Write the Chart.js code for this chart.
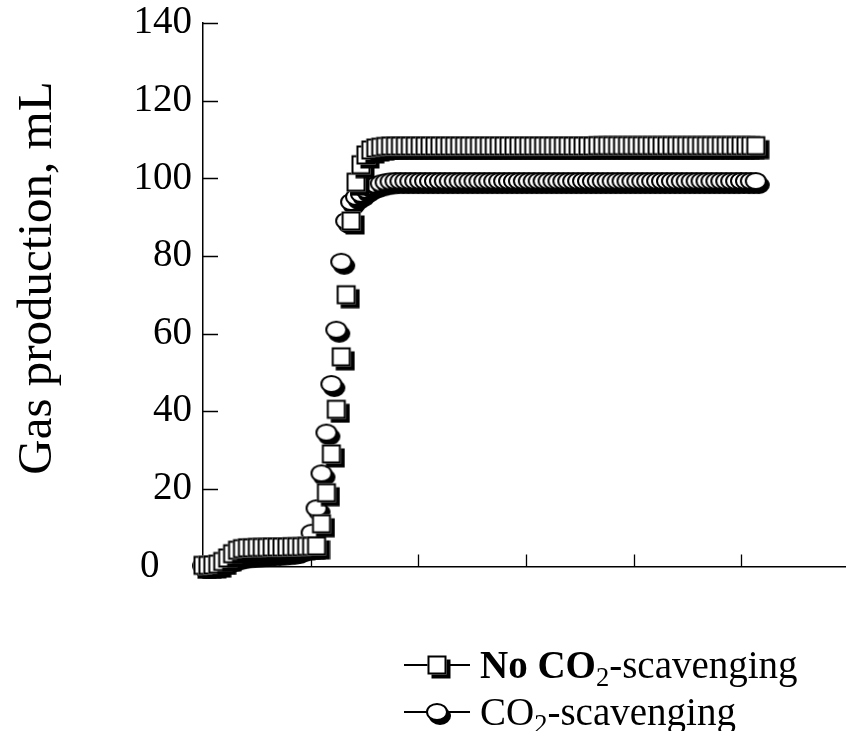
<!DOCTYPE html>
<html>
<head>
<meta charset="utf-8">
<title>Gas production</title>
<script src="https://cdn.jsdelivr.net/npm/chart.js"></script>
<style>
    html, body { margin: 0; padding: 0; background: #fff; }
    #wrap { position: relative; width: 846px; height: 731px; overflow: hidden; }
    #legend {
        position: absolute; left: 400px; top: 641px;
        font-family: "Liberation Serif", "Times New Roman", serif;
        font-size: 39px; color: #000;
    }
    .row { height: 47px; display: flex; align-items: center; white-space: nowrap; }
    .row canvas { margin-right: 8px; }
    sub { font-size: 0.68em; vertical-align: -0.3em; line-height: 0; }
</style>
</head>
<body>
<div id="wrap">
    <canvas id="gasChart" width="846" height="731"></canvas>
    <div id="legend">
        <div class="row"><canvas id="symSquare" width="72" height="30"></canvas><span><b>No CO</b><sub>2</sub>-scavenging</span></div>
        <div class="row"><canvas id="symCircle" width="72" height="30"></canvas><span>CO<sub>2</sub>-scavenging</span></div>
    </div>
</div>

<script>
    // sampling times (h)
    const hours = [
        0, 1.1, 2.2, 3.3, 4.4, 5.5, 6.6, 7.7, 8.8, 9.9,
        11, 12.1, 13.2, 14.3, 15.4, 16.5, 17.6, 18.7, 19.8, 20.9,
        22, 23.1, 24.2, 25.3, 26.4, 27.5, 28.6, 29.7, 30.8, 31.9,
        33, 34.1, 35.2, 36.3, 37.4, 38.5, 39.6, 40.7, 41.8, 42.9,
        44, 45.1, 46.2, 47.3, 48.4, 49.5, 50.6, 51.7, 52.8, 53.9,
        55, 56.1, 57.2, 58.3, 59.4, 60.5, 61.6, 62.7, 63.8, 64.9,
        66, 67.1, 68.2, 69.3, 70.4, 71.5, 72.6, 73.7, 74.8, 75.9,
        77, 78.1, 79.2, 80.3, 81.4, 82.5, 83.6, 84.7, 85.8, 86.9,
        88, 89.1, 90.2, 91.3, 92.4, 93.5, 94.6, 95.7, 96.8, 97.9,
        99, 100.1, 101.2, 102.3, 103.4, 104.5, 105.6, 106.7, 107.8, 108.9,
        110, 111.1, 112.2, 113.3, 114.4, 115.5, 116.6, 117.7, 118.8, 119.9,
        121, 122.1, 123.2
    ];

    // No CO2-scavenging (mL)
    const noScavenging = [
        0.3, 0.3, 0.4, 0.6, 1.3, 2.2, 3.3, 4.2, 4.6, 4.8,
        4.8, 4.9, 4.9, 4.9, 5.0, 5.0, 5.0, 5.0, 5.1, 5.1,
        5.1, 5.2, 5.2, 5.3, 11, 19, 29, 40.5, 54, 70,
        89, 99, 103.5, 106, 107.3, 107.8, 108.0, 108.2, 108.3, 108.3,
        108.3, 108.3, 108.3, 108.3, 108.3, 108.3, 108.3, 108.3, 108.3, 108.3,
        108.3, 108.3, 108.3, 108.3, 108.3, 108.3, 108.3, 108.3, 108.3, 108.3,
        108.3, 108.3, 108.3, 108.3, 108.3, 108.3, 108.3, 108.3, 108.3, 108.3,
        108.3, 108.3, 108.3, 108.3, 108.3, 108.3, 108.3, 108.3, 108.3, 108.3,
        108.4, 108.4, 108.4, 108.4, 108.4, 108.4, 108.4, 108.4, 108.4, 108.4,
        108.4, 108.4, 108.4, 108.4, 108.4, 108.4, 108.4, 108.4, 108.4, 108.4,
        108.4, 108.4, 108.4, 108.4, 108.4, 108.4, 108.4, 108.4, 108.4, 108.4,
        108.4, 108.4, 108.4
    ];

    // CO2-scavenging (mL)
    const scavenging = [
        0.2, 0.3, 0.5, 0.8, 1.2, 1.6, 2.0, 2.4, 2.7, 2.9,
        3.0, 3.1, 3.2, 3.3, 3.4, 3.5, 3.6, 3.7, 3.8, 4.0,
        4.5, 5.5, 8.7, 15, 24, 34.5, 47, 61, 78.5, 89,
        93.9, 95.2, 96, 97, 97.8, 98.3, 98.7, 99, 99.2, 99.3,
        99.3, 99.3, 99.3, 99.3, 99.3, 99.3, 99.3, 99.3, 99.3, 99.3,
        99.3, 99.3, 99.3, 99.3, 99.3, 99.3, 99.3, 99.3, 99.3, 99.3,
        99.3, 99.3, 99.3, 99.3, 99.3, 99.3, 99.3, 99.3, 99.3, 99.3,
        99.3, 99.3, 99.3, 99.3, 99.3, 99.3, 99.3, 99.3, 99.3, 99.3,
        99.3, 99.3, 99.3, 99.3, 99.3, 99.3, 99.3, 99.3, 99.3, 99.3,
        99.3, 99.3, 99.3, 99.3, 99.3, 99.3, 99.3, 99.3, 99.3, 99.3,
        99.3, 99.3, 99.3, 99.3, 99.3, 99.3, 99.3, 99.3, 99.3, 99.3,
        99.3, 99.3, 99.3
    ];

    const yTicks = [0, 20, 40, 60, 80, 100, 120, 140];
    const xTickStep = 24;
    const yTitleText = 'Gas production, mL';

    const serif = '"Liberation Serif", "Times New Roman", serif';

    // markers with a black drop shadow
    function squareMarker() {
        const c = document.createElement('canvas');
        c.width = 28; c.height = 28;
        const g = c.getContext('2d');
        g.fillStyle = '#000';
        g.fillRect(8.5, 8.5, 19, 19);
        g.fillStyle = '#fff';
        g.fillRect(4.5, 4.5, 19, 19);
        g.lineWidth = 2;
        g.strokeStyle = '#000';
        g.strokeRect(5.5, 5.5, 17, 17);
        return c;
    }

    function circleMarker() {
        const c = document.createElement('canvas');
        c.width = 32; c.height = 30;
        const g = c.getContext('2d');
        g.fillStyle = '#000';
        g.beginPath();
        g.ellipse(19, 19, 11, 9, 0, 0, Math.PI * 2);
        g.fill();
        g.fillStyle = '#fff';
        g.strokeStyle = '#000';
        g.lineWidth = 2;
        g.beginPath();
        g.ellipse(16, 15, 10, 8, 0, 0, Math.PI * 2);
        g.fill();
        g.stroke();
        return c;
    }

    const sq = squareMarker();
    const ci = circleMarker();

    // tick marks point into the plot
    const insideTicks = {
        id: 'insideTicks',
        beforeDatasetsDraw(chart) {
            const { ctx, chartArea, scales } = chart;
            ctx.save();
            ctx.strokeStyle = '#000';
            ctx.lineWidth = 1.3;
            ctx.beginPath();
            scales.x.ticks.forEach(t => {
                if (t.value === 0) return;
                const px = Math.round(scales.x.getPixelForValue(t.value)) + 0.5;
                ctx.moveTo(px, chartArea.bottom);
                ctx.lineTo(px, chartArea.bottom - 12);
            });
            scales.y.ticks.forEach(t => {
                if (t.value === 0) return;
                const py = Math.round(scales.y.getPixelForValue(t.value)) + 0.5;
                ctx.moveTo(chartArea.left, py);
                ctx.lineTo(chartArea.left + 15, py);
            });
            ctx.stroke();
            ctx.restore();
        }
    };

    // rotated y title, sits a little above the axis middle
    const yTitle = {
        id: 'yTitle',
        afterDraw(chart) {
            const c = chart.ctx;
            c.save();
            c.translate(38, 278);
            c.rotate(-Math.PI / 2);
            c.font = '49px ' + serif;
            c.fillStyle = '#000';
            c.textAlign = 'center';
            c.textBaseline = 'middle';
            c.fillText(yTitleText, 0, 0);
            c.restore();
        }
    };

    const ctx = document.getElementById('gasChart').getContext('2d');
    new Chart(ctx, {
        type: 'scatter',
        data: {
            datasets: [
                {
                    label: 'No CO2-scavenging',
                    data: hours.map((h, i) => ({ x: h, y: noScavenging[i] })),
                    pointStyle: sq,
                    pointRadius: 10,
                    showLine: false
                },
                {
                    label: 'CO2-scavenging',
                    data: hours.map((h, i) => ({ x: h, y: scavenging[i] })),
                    pointStyle: ci,
                    pointRadius: 10,
                    showLine: false
                }
            ]
        },
        options: {
            responsive: false,
            animation: false,
            clip: false,
            layout: { autoPadding: false, padding: { top: 23, bottom: 164.5, left: 0, right: 0 } },
            plugins: {
                legend: { display: false },
                tooltip: { enabled: false }
            },
            scales: {
                x: {
                    type: 'linear',
                    min: 0,
                    max: 143.3,
                    grid: { display: false, drawTicks: false },
                    border: { display: true, color: '#000', width: 1.5 },
                    ticks: { display: false, stepSize: xTickStep, includeBounds: false },
                    afterFit: scale => { scale.height = 0; }
                },
                y: {
                    min: 0,
                    max: 140,
                    grid: { display: false, drawTicks: false },
                    border: { display: true, color: '#000', width: 1.5 },
                    afterBuildTicks: scale => { scale.ticks = yTicks.map(v => ({ value: v })); },
                    afterFit: scale => {
                        scale.width = 203;
                        // the label half-heights fit inside the layout padding
                        scale.paddingTop = 0;
                        scale.paddingBottom = 0;
                    },
                    ticks: {
                        color: '#000',
                        padding: 11,
                        font: { family: serif, size: 39, lineHeight: 1 },
                        // the zero label sits further left in the original
                        callback: v => v === 0 ? '0\u00a0\u00a0\u00a0\u200a' : String(v)
                    }
                }
            }
        },
        plugins: [insideTicks, yTitle]
    });

    // legend symbols: line with marker
    function drawSymbol(id, marker) {
        const c = document.getElementById(id);
        const g = c.getContext('2d');
        g.strokeStyle = '#000';
        g.lineWidth = 2;
        g.beginPath();
        g.moveTo(4, 15);
        g.lineTo(70, 15);
        g.stroke();
        g.drawImage(marker, 37 - marker.width / 2, 15 - marker.height / 2);
    }
    drawSymbol('symSquare', sq);
    drawSymbol('symCircle', ci);
</script>
</body>
</html>
